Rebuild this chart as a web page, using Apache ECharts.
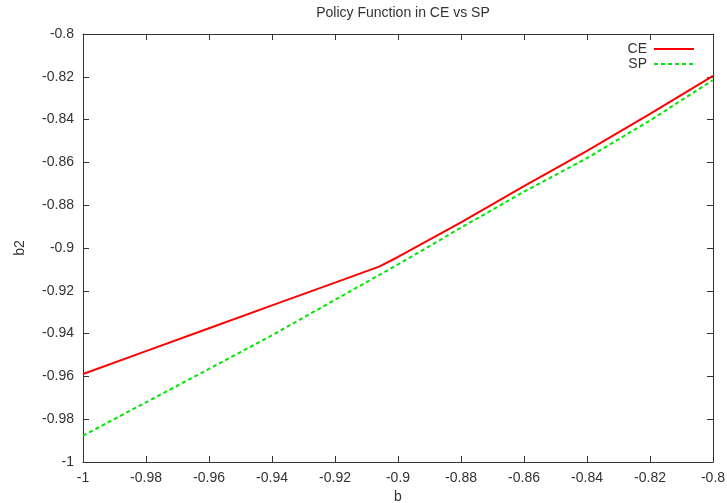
<!DOCTYPE html>
<html>
<head>
<meta charset="utf-8">
<script src="https://cdn.jsdelivr.net/npm/echarts@6/dist/echarts.min.js"></script>
<style>
  html, body { margin: 0; padding: 0; background: #fff; }
  #main { width: 727px; height: 503px; }
</style>
</head>
<body>
<div id="main"></div>
<script>
var ceX = [-1, -0.98, -0.96, -0.94, -0.92, -0.906, -0.9, -0.88, -0.86, -0.84, -0.82, -0.8];
var ceY = [-0.9589, -0.9482, -0.9375, -0.9268, -0.9162, -0.9087, -0.9042, -0.8880, -0.8711, -0.8546, -0.8373, -0.8196];
var spX = [-1, -0.98, -0.96, -0.94, -0.92, -0.9, -0.88, -0.86, -0.84, -0.82, -0.8];
var spY = [-0.9877, -0.9721, -0.9565, -0.9408, -0.9242, -0.9077, -0.8905, -0.8737, -0.8580, -0.8404, -0.8215];

function pairs(xs, ys) {
    var out = [];
    for (var i = 0; i < xs.length; i++) out.push([xs[i], ys[i]]);
    return out;
}

var myChart = echarts.init(document.getElementById('main'));
var font = 'Liberation Sans, Arial, sans-serif';
var axisCommon = {
    min: -1, max: -0.8, interval: 0.02,
    axisLine: { show: true, onZero: false, lineStyle: { color: '#333', width: 1 } },
    axisTick: { show: true, inside: true, length: 6, lineStyle: { color: '#333' } },
    splitLine: { show: false }
};

var option = {
    animation: false,
    backgroundColor: '#fff',
    title: {
        text: 'Policy Function in CE vs SP',
        left: 398, top: 1, textAlign: 'center',
        textStyle: { fontFamily: font, fontSize: 14, fontWeight: 'normal', color: '#333' }
    },
    legend: {
        orient: 'vertical', right: 27, top: 37, align: 'right',
        itemWidth: 40, itemHeight: 10, itemGap: 1,
        itemStyle: { opacity: 0 },
        textStyle: { fontFamily: font, fontSize: 14, color: '#333', padding: [0, 2, 0, 0] },
        data: ['CE', 'SP']
    },
    grid: { left: 83, right: 14, top: 34, bottom: 41, containLabel: false, outerBoundsMode: 'none' },
    xAxis: [
        Object.assign({}, axisCommon, {
            type: 'value', position: 'bottom', name: 'b', nameLocation: 'middle', nameGap: 26,
            nameTextStyle: { fontFamily: font, fontSize: 14, color: '#333' },
            axisLabel: { margin: 9, fontFamily: font, fontSize: 14, color: '#333' }
        }),
        Object.assign({}, axisCommon, {
            type: 'value', position: 'top', axisLabel: { show: false }
        })
    ],
    yAxis: [
        Object.assign({}, axisCommon, {
            type: 'value', position: 'left', name: 'b2', nameLocation: 'middle', nameGap: 56,
            nameTextStyle: { fontFamily: font, fontSize: 14, color: '#333' },
            axisLabel: { margin: 9, fontFamily: font, fontSize: 14, color: '#333' }
        }),
        Object.assign({}, axisCommon, {
            type: 'value', position: 'right', axisLabel: { show: false }
        })
    ],
    series: [
        {
            name: 'CE', type: 'line', symbol: 'none', xAxisIndex: 0, yAxisIndex: 0,
            itemStyle: { color: '#ff0000' },
            lineStyle: { color: '#ff0000', width: 2 },
            data: pairs(ceX, ceY)
        },
        {
            name: 'SP', type: 'line', symbol: 'none', xAxisIndex: 0, yAxisIndex: 0,
            itemStyle: { color: '#00e600' },
            lineStyle: { color: '#00e600', width: 2, type: [4, 3] },
            data: pairs(spX, spY)
        }
    ]
};
myChart.setOption(option);
</script>
</body>
</html>
